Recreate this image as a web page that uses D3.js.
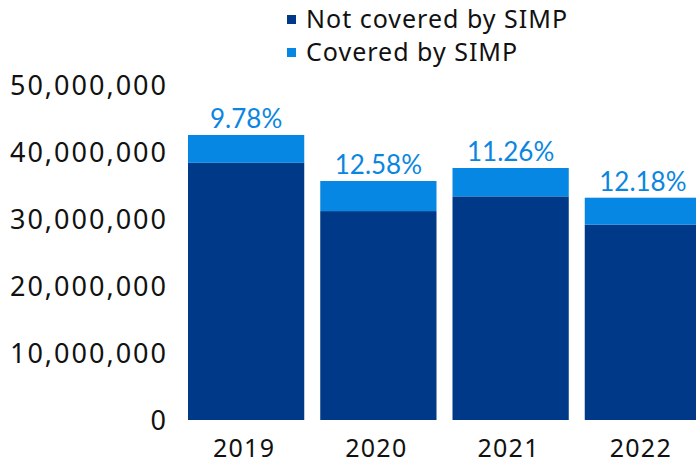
<!DOCTYPE html>
<html>
<head>
<meta charset="utf-8">
<script src="https://cdn.jsdelivr.net/npm/d3@7/dist/d3.min.js"></script>
<style>
  html, body { margin: 0; padding: 0; background: #fff; overflow: hidden; }
  svg { display: block; }
</style>
</head>
<body>
<svg id="chart" width="696" height="464"></svg>
<script>
const years = ["2019", "2020", "2021", "2022"];
const notCovered = [38380000, 31180000, 33380000, 29140000];
const covered = [4160000, 4490000, 4230000, 4040000];
const pctLabels = ["9.78%", "12.58%", "11.26%", "12.18%"];
const yTicks = [0, 10000000, 20000000, 30000000, 40000000, 50000000];
const seriesNames = ["Not covered by SIMP", "Covered by SIMP"];
const colors = ["#003987", "#0787E4"];

const svg = d3.select("#chart");
const x = d3.scaleBand().domain(years).range([188, 701]).paddingInner(0.121).paddingOuter(0);
const y = d3.scaleLinear().domain([0, 50000000]).range([420, 85]);

const data = years.map((yr, i) => ({ year: yr, nc: notCovered[i], c: covered[i], pct: pctLabels[i] }));

// y axis labels
const fmt = d3.format(",");
svg.append("g").selectAll("text").data(yTicks).join("text")
  .attr("x", 168)
  .attr("y", d => y(d))
  .attr("dy", "0.36em")
  .attr("text-anchor", "end")
  .style("font-family", "'Noto Sans', sans-serif")
  .style("font-size", "27px")
  .style("letter-spacing", "2px")
  .attr("fill", "#111")
  .text(d => fmt(d));

// bars
const g = svg.append("g");
g.selectAll("rect.nc").data(data).join("rect")
  .attr("class", "nc")
  .attr("x", d => x(d.year))
  .attr("width", x.bandwidth())
  .attr("y", d => y(d.nc))
  .attr("height", d => y(0) - y(d.nc))
  .attr("fill", colors[0]);
g.selectAll("rect.c").data(data).join("rect")
  .attr("class", "c")
  .attr("x", d => x(d.year))
  .attr("width", x.bandwidth())
  .attr("y", d => y(d.nc + d.c))
  .attr("height", d => y(d.nc) - y(d.nc + d.c))
  .attr("fill", colors[1]);

// percentage labels
g.selectAll("text.pct").data(data).join("text")
  .attr("class", "pct")
  .attr("x", d => x(d.year) + x.bandwidth() / 2)
  .attr("y", d => y(d.nc + d.c) - 7)
  .attr("text-anchor", "middle")
  .style("font-family", "Lato, sans-serif")
  .style("font-size", "26px")
  .attr("fill", "#0B86E0")
  .text(d => d.pct);

// x labels
svg.append("g").selectAll("text").data(years).join("text")
  .attr("x", d => x(d) + x.bandwidth() / 2 - 2)
  .attr("y", 457)
  .attr("text-anchor", "middle")
  .style("font-family", "'Noto Sans', sans-serif")
  .style("font-size", "25px")
  .style("letter-spacing", "1.3px")
  .attr("fill", "#111")
  .text(d => d);

// legend
const leg = svg.append("g");
seriesNames.forEach((name, i) => {
  const by = 28 + i * 33;
  leg.append("rect").attr("x", 287).attr("y", by - 13).attr("width", 9).attr("height", 9).attr("fill", colors[i]);
  leg.append("text").attr("x", 306).attr("y", by)
    .style("font-family", "'Noto Sans', sans-serif")
    .style("font-size", "25px")
    .style("letter-spacing", "1px")
    .attr("fill", "#111")
    .text(name);
});
</script>
</body>
</html>
